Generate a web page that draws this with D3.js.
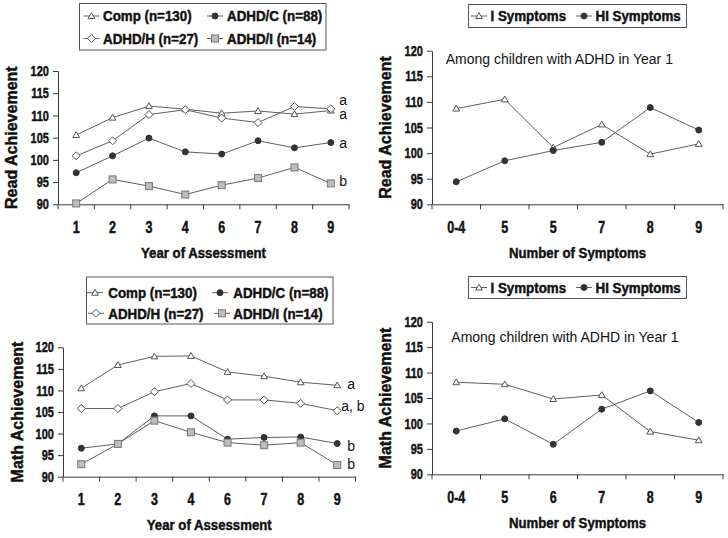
<!DOCTYPE html>
<html>
<head>
<meta charset="utf-8">
<script src="https://cdn.jsdelivr.net/npm/d3@7"></script>
<style>
  html, body { margin: 0; padding: 0; background: #fff; }
  svg { display: block; }
  .bold { font-family: "Liberation Sans", Arial, sans-serif; font-weight: bold; }
  .heavy { font-family: "Liberation Sans", Arial, sans-serif; font-weight: bold; stroke: #111; stroke-width: 0.45px; }
  .reg { font-family: "Liberation Sans", Arial, sans-serif; }
</style>
</head>
<body>
<svg id="chart" width="728" height="538"></svg>
<script>
// ---------------- DATA ----------------
const years = ["1", "2", "3", "4", "6", "7", "8", "9"];
const yTicks = [90, 95, 100, 105, 110, 115, 120];

const groupNames = ["Comp (n=130)", "ADHD/C (n=88)", "ADHD/H (n=27)", "ADHD/I (n=14)"];

const readComp = [105.6, 109.5, 112.1, 111.4, 110.5, 111.0, 110.3, 111.1];
const readH    = [100.9, 104.3, 110.2, 111.3, 109.4, 108.4, 112.0, 111.5];
const readC    = [97.1, 100.9, 104.9, 101.8, 101.3, 104.3, 102.7, 103.9];
const readI    = [90.2, 95.6, 94.1, 92.2, 94.3, 95.9, 98.3, 94.7];

const mathComp = [110.5, 115.9, 117.9, 118.0, 114.3, 113.3, 111.9, 111.2];
const mathH    = [105.8, 105.8, 109.7, 111.6, 107.8, 107.8, 107.0, 105.3];
const mathC    = [96.6, 97.6, 104.1, 104.1, 98.7, 99.1, 99.2, 97.7];
const mathI    = [92.9, 97.6, 103.0, 100.3, 97.9, 97.3, 97.9, 92.7];

// significance letters: [text, value level]
const readLetters = [["a", 113.4], ["a", 110.1], ["a", 103.6], ["b", 95.0]];
const mathLetters = [["a", 111.2], ["a, b", 106.2], ["b", 97.0], ["b", 92.7]];

const symptomNames = ["I Symptoms", "HI Symptoms"];
const readSymLabels = ["0-4", "5", "5", "7", "8", "9"];
const readISym  = [108.7, 110.5, 101.1, 105.6, 99.8, 101.8];
const readHISym = [94.4, 98.5, 100.5, 102.1, 108.9, 104.5];

const mathSymLabels = ["0-4", "5", "6", "7", "8", "9"];
const mathISym  = [108.1, 107.7, 104.8, 105.6, 98.4, 96.7];
const mathHISym = [98.5, 100.9, 95.9, 102.8, 106.4, 100.2];

const annotation = "Among children with ADHD in Year 1";

// ---------------- STYLE ----------------
const LINE = "#606060";
const AXIS = "#3a3a3a";
const markerStyles = {
  triangle: { fill: "#fff", stroke: "#555" },
  circle:   { fill: "#333", stroke: "#333" },
  diamond:  { fill: "#fff", stroke: "#555" },
  square:   { fill: "#bdbdbd", stroke: "#777" }
};

const svg = d3.select("#chart");

function condense(sel, factor) {
  sel.each(function () {
    const w = this.getComputedTextLength();
    d3.select(this).attr("textLength", w * factor).attr("lengthAdjust", "spacingAndGlyphs");
  });
}

function drawMarker(g, type, x, y) {
  const st = markerStyles[type];
  let el;
  if (type === "triangle") {
    el = g.append("path").attr("d", `M${x},${y - 3.3}L${x + 3.4},${y + 2.5}L${x - 3.4},${y + 2.5}Z`);
  } else if (type === "circle") {
    el = g.append("circle").attr("cx", x).attr("cy", y).attr("r", 3);
  } else if (type === "diamond") {
    el = g.append("path").attr("d", `M${x},${y - 4}L${x + 4},${y}L${x},${y + 4}L${x - 4},${y}Z`);
  } else {
    el = g.append("rect").attr("x", x - 3.5).attr("y", y - 3.5).attr("width", 7).attr("height", 7);
  }
  el.attr("fill", st.fill).attr("stroke", st.stroke).attr("stroke-width", 1);
}

function panel(cfg) {
  const g = svg.append("g");
  const idx = cfg.labels.map((d, i) => i);
  const x = d3.scaleBand().domain(idx).range([cfg.x0, cfg.x1]).padding(0);
  const y = d3.scaleLinear().domain([90, 120]).range([cfg.yb, cfg.yt]);
  const cx = i => x(i) + x.bandwidth() / 2;

  // y axis
  const ya = g.append("g").attr("transform", `translate(${cfg.x0},0)`)
    .call(d3.axisLeft(y).tickValues(yTicks).tickSize(5).tickSizeOuter(0).tickPadding(4));
  ya.select(".domain").attr("stroke", AXIS);
  ya.selectAll(".tick line").attr("stroke", AXIS);
  ya.selectAll("text").attr("class", "heavy").attr("font-size", 14.5).attr("fill", "#111")
    .call(condense, 0.76);

  // x axis labels
  const xa = g.append("g").attr("transform", `translate(0,${cfg.yb})`)
    .call(d3.axisBottom(x).tickFormat(i => cfg.labels[i]).tickSize(0).tickPadding(17));
  xa.select(".domain").attr("stroke", AXIS);
  xa.selectAll("text").attr("class", "heavy").attr("font-size", 16).attr("fill", "#111")
    .call(condense, 0.78);
  // boundary tick marks
  const bounds = idx.map(i => x(i)).concat([x.range()[1]]);
  g.selectAll(null).data(bounds).enter().append("line")
    .attr("x1", d => d).attr("x2", d => d)
    .attr("y1", cfg.yb).attr("y2", cfg.yb + 5)
    .attr("stroke", AXIS);

  // titles
  g.append("text").attr("class", "heavy").attr("font-size", 15)
    .attr("x", (cfg.x0 + cfg.x1) / 2).attr("y", cfg.yb + 53.5)
    .attr("text-anchor", "middle").attr("fill", "#111").text(cfg.xTitle)
    .call(condense, 0.88);
  g.append("text").attr("class", "heavy").attr("font-size", 16)
    .attr("transform", `translate(${cfg.yTitleX},${(cfg.yb + cfg.yt) / 2}) rotate(-90)`)
    .attr("text-anchor", "middle").attr("dy", "0.36em").attr("fill", "#111").text(cfg.yTitle);

  // series
  const line = d3.line().x((d, i) => cx(i)).y(d => y(d));
  cfg.series.forEach(s => {
    g.append("path").datum(s.values).attr("d", line)
      .attr("fill", "none").attr("stroke", LINE).attr("stroke-width", 1);
  });
  cfg.series.forEach(s => {
    s.values.forEach((v, i) => drawMarker(g, s.marker, cx(i), y(v)));
  });

  // letters
  if (cfg.letters) {
    const lastX = cx(idx.length - 1);
    cfg.letters.forEach(([t, v], k) => {
      g.append("text").attr("class", "reg").attr("font-size", 14)
        .attr("x", lastX + (cfg.letterDx[k])).attr("y", y(v)).attr("dy", "0.3em")
        .attr("fill", "#111").text(t);
    });
  }
  if (cfg.note) {
    g.append("text").attr("class", "reg").attr("font-size", 14)
      .attr("x", cfg.note.x).attr("y", cfg.note.y).attr("fill", "#111").text(annotation);
  }
}

function legend(box, items) {
  const g = svg.append("g");
  g.append("rect").attr("x", box.x).attr("y", box.y).attr("width", box.w).attr("height", box.h)
    .attr("fill", "#fff").attr("stroke", "#555").attr("stroke-width", 1);
  items.forEach(it => {
    g.append("line").attr("x1", it.mx - 8).attr("x2", it.mx + 8)
      .attr("y1", it.y).attr("y2", it.y).attr("stroke", LINE);
    drawMarker(g, it.marker, it.mx, it.y);
    g.append("text").attr("class", "heavy").attr("font-size", 14.5)
      .attr("x", it.tx).attr("y", it.y).attr("dy", "0.36em").attr("fill", "#111").text(it.text)
      .call(condense, 0.92);
  });
}

// ---------------- PANELS ----------------
panel({
  x0: 58, x1: 349, yt: 71, yb: 204.3, labels: years,
  xTitle: "Year of Assessment", yTitle: "Read Achievement", yTitleX: 11,
  series: [
    { values: readComp, marker: "triangle" },
    { values: readH, marker: "diamond" },
    { values: readC, marker: "circle" },
    { values: readI, marker: "square" }
  ],
  letters: readLetters, letterDx: [8.5, 8.5, 8.5, 8.5]
});
legend({ x: 79.5, y: 3.5, w: 246.5, h: 46.5 }, [
  { marker: "triangle", mx: 91.5, tx: 103, y: 16, text: groupNames[0] },
  { marker: "circle", mx: 215, tx: 227, y: 16, text: groupNames[1] },
  { marker: "diamond", mx: 91.5, tx: 103, y: 38.5, text: groupNames[2] },
  { marker: "square", mx: 215, tx: 227, y: 38.5, text: groupNames[3] }
]);

panel({
  x0: 432, x1: 723, yt: 50.7, yb: 204.3, labels: readSymLabels,
  xTitle: "Number of Symptoms", yTitle: "Read Achievement", yTitleX: 385,
  series: [
    { values: readISym, marker: "triangle" },
    { values: readHISym, marker: "circle" }
  ],
  note: { x: 445.7, y: 64 }
});
legend({ x: 468.5, y: 4.5, w: 218, h: 23 }, [
  { marker: "triangle", mx: 479, tx: 490.5, y: 16, text: symptomNames[0] },
  { marker: "circle", mx: 584, tx: 595.5, y: 16, text: symptomNames[1] }
]);

panel({
  x0: 63, x1: 355.5, yt: 347.3, yb: 476.7, labels: years,
  xTitle: "Year of Assessment", yTitle: "Math Achievement", yTitleX: 17,
  series: [
    { values: mathComp, marker: "triangle" },
    { values: mathH, marker: "diamond" },
    { values: mathC, marker: "circle" },
    { values: mathI, marker: "square" }
  ],
  letters: mathLetters, letterDx: [10, 4, 10, 10]
});
legend({ x: 86.5, y: 277, w: 246.5, h: 47 }, [
  { marker: "triangle", mx: 95, tx: 108.3, y: 292.7, text: groupNames[0] },
  { marker: "circle", mx: 220, tx: 233.3, y: 292.7, text: groupNames[1] },
  { marker: "diamond", mx: 96, tx: 108.3, y: 313.3, text: groupNames[2] },
  { marker: "square", mx: 222, tx: 233.3, y: 313.3, text: groupNames[3] }
]);

panel({
  x0: 432, x1: 723, yt: 321.7, yb: 474.3, labels: mathSymLabels,
  xTitle: "Number of Symptoms", yTitle: "Math Achievement", yTitleX: 385,
  series: [
    { values: mathISym, marker: "triangle" },
    { values: mathHISym, marker: "circle" }
  ],
  note: { x: 451.3, y: 341.7 }
});
legend({ x: 468.5, y: 276.5, w: 218, h: 22 }, [
  { marker: "triangle", mx: 479, tx: 490.5, y: 287.5, text: symptomNames[0] },
  { marker: "circle", mx: 584, tx: 595.5, y: 287.5, text: symptomNames[1] }
]);
</script>
</body>
</html>
